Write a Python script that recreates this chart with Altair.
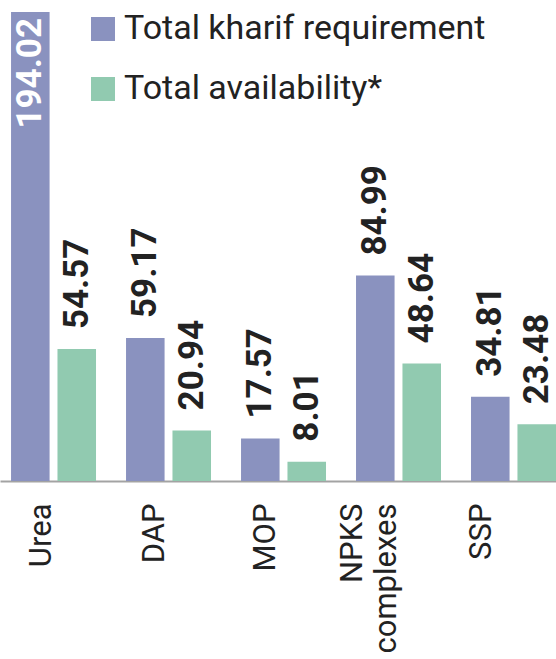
import altair as alt
import pandas as pd

categories = ["Urea", "DAP", "MOP", "NPKS complexes", "SSP"]
series_names = ["Total kharif requirement", "Total availability*"]
requirement = [194.02, 59.17, 17.57, 84.99, 34.81]
availability = [54.57, 20.94, 8.01, 48.64, 23.48]
colors = ["#8a92bf", "#91cab0"]
label_shift = [-12, -14, -18, -46, -32]

rows = []
for c, r, a in zip(categories, requirement, availability):
    rows.append({"cat": c, "series": series_names[0], "value": r})
    rows.append({"cat": c, "series": series_names[1], "value": a})
df = pd.DataFrame(rows)
df["label"] = df["value"].map(lambda v: f"{v:.2f}")

ymax = max(requirement)

offset_cond = {
    "condition": [
        {"test": f"datum.value == '{c}'", "value": s}
        for c, s in zip(categories, label_shift)
    ],
    "value": -20,
}

x_enc = alt.X(
    "cat:N",
    sort=categories,
    title=None,
    scale=alt.Scale(paddingInner=0.261, paddingOuter=0.048, align=1),
    axis=alt.Axis(
        labelAngle=270,
        labelAlign="right",
        labelBaseline="middle",
        labelFont="Roboto, Liberation Sans, Arial, sans-serif",
        labelFontSize=31,
        labelColor="#222222",
        labelPadding=22,
        labelOffset=offset_cond,
        labelLineHeight=34,
        labelExpr="split(datum.label, ' ')",
        ticks=False,
        domainColor="#a3a3a3",
        domainWidth=2,
        grid=False,
    ),
)
xo_enc = alt.XOffset("series:N", sort=series_names,
                     scale=alt.Scale(paddingInner=0.17, paddingOuter=0))
y_enc = alt.Y("value:Q", axis=None,
              scale=alt.Scale(domain=[0, ymax], nice=False, zero=True))

bars = alt.Chart(df).mark_bar().encode(
    x=x_enc,
    xOffset=xo_enc,
    y=y_enc,
    color=alt.Color(
        "series:N",
        sort=series_names,
        scale=alt.Scale(domain=series_names, range=colors),
        legend=alt.Legend(
            title=None,
            orient="none",
            legendX=86,
            legendY=0,
            symbolType="square",
            symbolSize=576,
            symbolStrokeWidth=0,
            symbolOpacity=1,
            labelFont="Roboto, Liberation Sans, sans-serif",
            labelFontSize=34,
            labelColor="#222222",
            labelOffset=4,
            rowPadding=26,
            padding=0,
            labelLimit=500,
        ),
    ),
)

label_font = "Roboto, Liberation Sans, Arial, sans-serif"

labels_out = alt.Chart(df).transform_filter(
    alt.datum.value < 150
).mark_text(
    angle=270, align="left", baseline="middle", dx=20,
    font=label_font, fontWeight="bold", fontSize=35, color="#222222",
).encode(x=x_enc, xOffset=xo_enc, y=y_enc, text="label:N")

labels_in = alt.Chart(df).transform_filter(
    alt.datum.value >= 150
).mark_text(
    angle=270, align="right", baseline="middle", dx=-6,
    font=label_font, fontWeight="bold", fontSize=35, color="#ffffff",
).encode(x=x_enc, xOffset=xo_enc, y=y_enc, text="label:N")

chart = alt.layer(bars, labels_out, labels_in).properties(
    width=556,
    height=469,
    autosize=alt.AutoSizeParams(type="none"),
    padding={"top": 12, "bottom": 178, "left": 0, "right": 0},
    background="white",
).configure_view(stroke=None)

chart.save("out.html", embed_options={"renderer": "svg", "actions": False})
